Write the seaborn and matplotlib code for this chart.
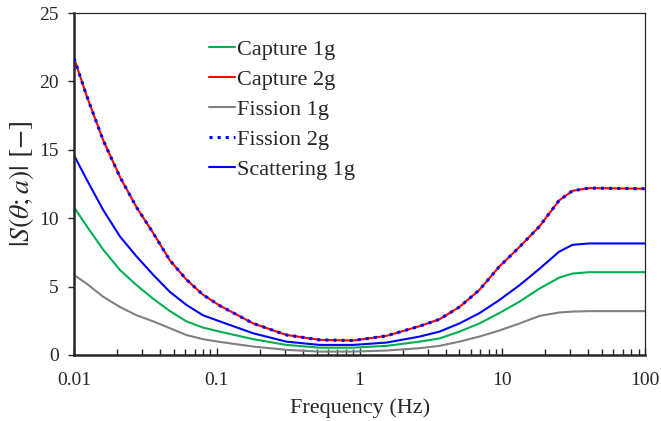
#
#
# DATA

freq = [0.01, 0.0123, 0.016, 0.021, 0.0274, 0.0359, 0.047, 0.0614, 0.080, 0.105,
        0.18, 0.307, 0.525, 0.90, 1.54, 2.63, 3.62, 5.0, 6.9, 9.5,
        13.2, 18.2, 25, 31, 40.5, 100]

capture_1g = [10.8, 9.4, 7.7, 6.2, 5.1, 4.1, 3.2, 2.45, 2.0, 1.7,
              1.15, 0.73, 0.53, 0.53, 0.66, 0.97, 1.2, 1.7, 2.3, 3.05,
              3.9, 4.85, 5.65, 5.95, 6.05, 6.05]

capture_2g = [21.7, 18.9, 15.7, 13.0, 10.8, 8.9, 6.9, 5.5, 4.4, 3.6,
              2.3, 1.46, 1.1, 1.05, 1.39, 2.1, 2.6, 3.5, 4.75, 6.45,
              7.9, 9.4, 11.3, 12.0, 12.2, 12.15]

fission_1g = [5.85, 5.2, 4.25, 3.5, 2.9, 2.45, 1.95, 1.45, 1.15, 0.95,
              0.61, 0.37, 0.24, 0.24, 0.32, 0.49, 0.66, 0.97, 1.34, 1.78,
              2.3, 2.85, 3.1, 3.17, 3.2, 3.2]

# fission 2g lies on top of capture 2g
fission_2g = list(capture_2g)

scattering_1g = [14.6, 12.8, 10.6, 8.65, 7.2, 5.85, 4.6, 3.65, 2.9, 2.45,
                 1.58, 0.97, 0.73, 0.73, 0.9, 1.34, 1.7, 2.3, 3.05, 4.0,
                 5.1, 6.3, 7.55, 8.05, 8.15, 8.15]

series_names = ["Capture 1g", "Capture 2g", "Fission 1g", "Fission 2g", "Scattering 1g"]

#
#
#

import pandas as pd
import matplotlib
matplotlib.use("Agg")
import matplotlib.pyplot as plt
import seaborn as sns

sns.set_style("ticks")
plt.rcParams['font.family'] = ['Liberation Serif', 'DejaVu Serif']
plt.rcParams['mathtext.fontset'] = 'stix'

df = pd.DataFrame({
  "freq": freq,
  "Capture 1g": capture_1g,
  "Capture 2g": capture_2g,
  "Fission 1g": fission_1g,
  "Fission 2g": fission_2g,
  "Scattering 1g": scattering_1g,
})

styles = {
  "Capture 1g": dict(color="#00B050", linestyle="-"),
  "Capture 2g": dict(color="#FF0000", linestyle="-"),
  "Fission 1g": dict(color="#808080", linestyle="-"),
  "Fission 2g": dict(color="#0000FF", linestyle=":"),
  "Scattering 1g": dict(color="#0000FF", linestyle="-"),
}

fig = plt.figure(figsize=(6.61, 4.21), dpi=100)
ax = fig.add_axes([0.112, 0.157, 0.864, 0.812])

for name in series_names:
  lw = 2.2 if name == "Fission 2g" else 1.5
  sns.lineplot(data=df, x="freq", y=name, ax=ax, label=name, linewidth=lw,
               zorder=3 if name == "Fission 2g" else 2, **styles[name])

ax.set_xscale("log")
ax.set_xlim(0.01, 100)
ax.set_ylim(0, 25)
ax.set_yticks([0, 5, 10, 15, 20, 25])
ax.set_xticks([0.01, 0.1, 1, 10, 100])
ax.set_xticklabels(["0.01", "0.1", "1", "10", "100"])

ax.set_xlabel("Frequency (Hz)", fontsize=16, labelpad=7)
ax.set_ylabel(r"$|S(\theta;a)|\ [-]$", fontsize=20, labelpad=2)

ax.tick_params(axis="x", which="major", direction="in", length=5, width=1, labelsize=14, pad=12)
ax.tick_params(axis="x", which="minor", direction="in", length=4, width=1)
ax.tick_params(axis="y", which="major", direction="out", length=4, width=1, labelsize=14, pad=7)

for side in ["left", "bottom"]:
  ax.spines[side].set_linewidth(1.8)
for side in ["top", "right"]:
  ax.spines[side].set_linewidth(0.9)
  ax.spines[side].set_visible(True)

ax.legend(loc="upper left", bbox_to_anchor=(0.236, 0.922), frameon=False, fontsize=16,
          handlelength=1.2, handletextpad=0.08, labelspacing=0.42, borderaxespad=0,
          borderpad=0)

fig.savefig("out.png", dpi=100)
